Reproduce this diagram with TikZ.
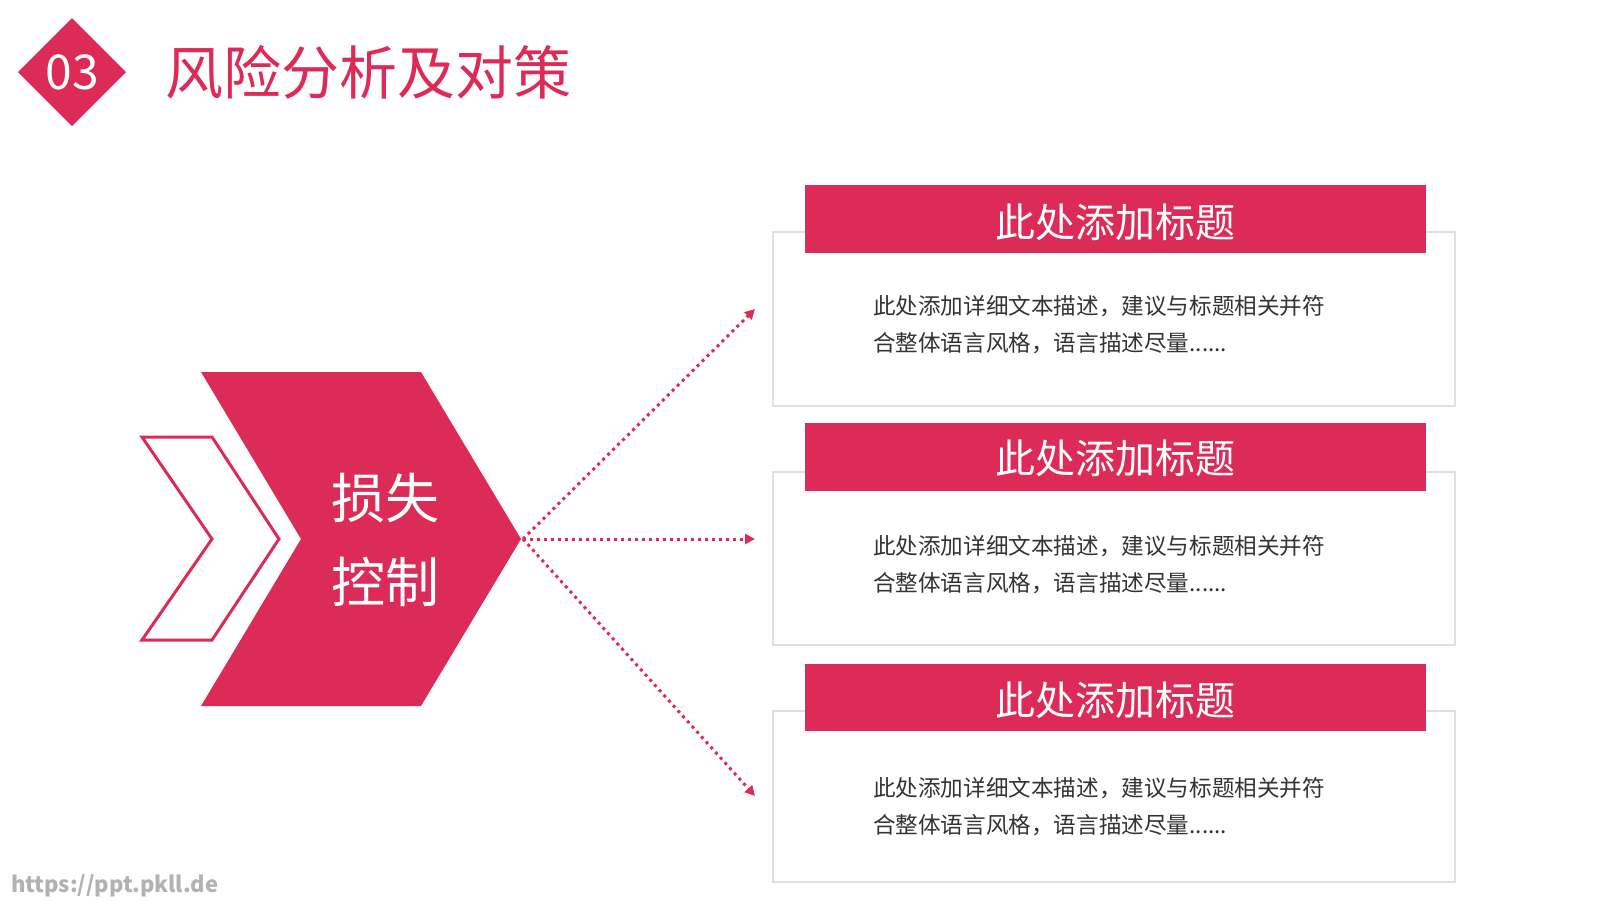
\documentclass[tikz,border=0pt]{standalone}
\usepackage{fontspec}
\setmainfont{Noto Sans CJK SC}
\newfontfamily\cjkl{Noto Sans CJK SC Light}
\usetikzlibrary{arrows.meta}
\definecolor{crim}{HTML}{DC2B56}
\begin{document}
\begin{tikzpicture}[x=0.5pt,y=-0.5pt,
 card/.style={draw=black!12,fill=white,line width=0.8pt},
 bar/.style={fill=crim},
 bartext/.style={text=white,font=\fontsize{20}{24}\selectfont},
 bodytext/.style={text=black!80,font=\fontsize{11.3}{18.5}\selectfont,align=left,anchor=west},
 dotarrow/.style={crim,line width=1.5pt,dotted,-{Triangle[length=5pt,width=5pt]}}]
\useasboundingbox (0,0) rectangle (1600,900);
\fill[white] (0,0) rectangle (1600,900);
% header
\fill[crim] (72,18) -- (126,72) -- (72,126) -- (18,72) -- cycle;
\node (num) at (72,72) {\textcolor{white}{\fontsize{24}{24}\selectfont 03}};
\node[anchor=west,text=crim,font=\fontsize{29}{32}\selectfont] (title) at (158,72) {风险分析及对策};
% chevrons
\draw[crim,line width=1.5pt,fill=white] (142,437) -- (212,437) -- (279,539) -- (212,640) -- (142,640) -- (212,539) -- cycle;
\fill[crim] (201,372) -- (421,372) -- (521,539) -- (421,706) -- (201,706) -- (301,539) -- cycle;
\node[text=white,font=\fontsize{27}{42}\selectfont,align=center] (loss) at (385,540) {损失\\控制};
\coordinate (tip) at (523,539);
% cards
\foreach \i/\ya/\yb/\ra/\rb in {1/232/406/185/253,2/472/645/423/491,3/711/882/664/731}{
 \draw[card] (773,\ya) rectangle (1455,\yb);
 \fill[bar] (805,\ra) rectangle (1426,\rb);
}
\node[bartext] (t1) at (1115,222) {此处添加标题};
\node[bartext] (t2) at (1115,458) {此处添加标题};
\node[bartext] (t3) at (1115,700) {此处添加标题};
\node[bodytext] (b1) at (866,325) {此处添加详细文本描述，建议与标题相关并符\\合整体语言风格，语言描述尽量......};
\node[bodytext] (b2) at (866,565) {此处添加详细文本描述，建议与标题相关并符\\合整体语言风格，语言描述尽量......};
\node[bodytext] (b3) at (866,807) {此处添加详细文本描述，建议与标题相关并符\\合整体语言风格，语言描述尽量......};
\coordinate (e1) at (755,309);
\coordinate (e2) at (755,539);
\coordinate (e3) at (755,796);
\draw[dotarrow] (tip) -- (e1);
\draw[dotarrow] (tip) -- (e2);
\draw[dotarrow] (tip) -- (e3);
\node[anchor=west,text=black!30,font=\fontsize{11}{12}\selectfont\bfseries] (wm) at (4,886) {https://ppt.pkll.de};
\end{tikzpicture}
\end{document}
